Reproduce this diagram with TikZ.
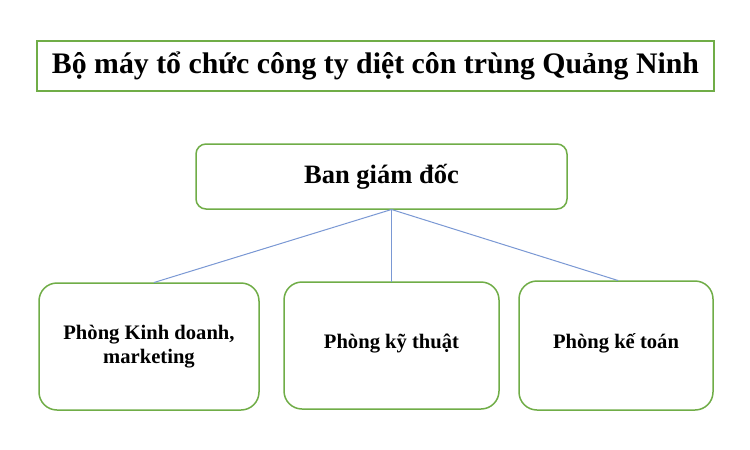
\documentclass[tikz,border=0pt]{standalone}
\usepackage{fontspec}
\setmainfont{Liberation Serif}
\definecolor{boxgreen}{RGB}{112,173,71}
\definecolor{linkblue}{RGB}{122,152,212}
\begin{document}
\begin{tikzpicture}[x=1pt,y=-1pt,
  titlebox/.style={draw=boxgreen,line width=1.5pt,rectangle,inner sep=0pt,
    font=\bfseries\fontsize{29.8}{34}\selectfont},
  rbox/.style={draw=boxgreen,line width=1.5pt,rectangle,inner sep=0pt,align=center},
  topfont/.style={font=\bfseries\fontsize{26.5}{30}\selectfont},
  subfont/.style={font=\bfseries\fontsize{20.6}{25}\selectfont},
  link/.style={draw=linkblue,line width=1pt}]
\useasboundingbox (0,0) rectangle (750,450);
\fill[white] (0,0) rectangle (750,450);

\node[titlebox,minimum width=677pt,minimum height=50pt] (title) at (375.5,66)
  {\raisebox{1pt}{Bộ máy tổ chức công ty diệt côn trùng Quảng Ninh}};

\node[rbox,topfont,rounded corners=10pt,minimum width=371pt,minimum height=65pt] (bgd) at (381.5,176.5)
  {\raisebox{4pt}{Ban giám đốc}};

\node[rbox,subfont,rounded corners=18pt,minimum width=220pt,minimum height=127pt] (kd) at (149,346.5)
  {\raisebox{3pt}{\shortstack{Phòng Kinh doanh,\\[2pt]marketing}}};
\node[rbox,subfont,rounded corners=18pt,minimum width=215pt,minimum height=127pt] (kt) at (391.5,345.5)
  {\raisebox{8pt}{Phòng kỹ thuật}};
\node[rbox,subfont,rounded corners=18pt,minimum width=194pt,minimum height=129pt] (ktoan) at (616,345.5)
  {\raisebox{9pt}{Phòng kế toán}};

\coordinate (hub) at (391.5,209.5);
\coordinate (e1) at (154,282.5);
\coordinate (e2) at (391.5,281.5);
\coordinate (e3) at (618,280.5);
\draw[link] (hub) -- (e1);
\draw[link] (hub) -- (e2);
\draw[link] (hub) -- (e3);
\end{tikzpicture}
\end{document}
